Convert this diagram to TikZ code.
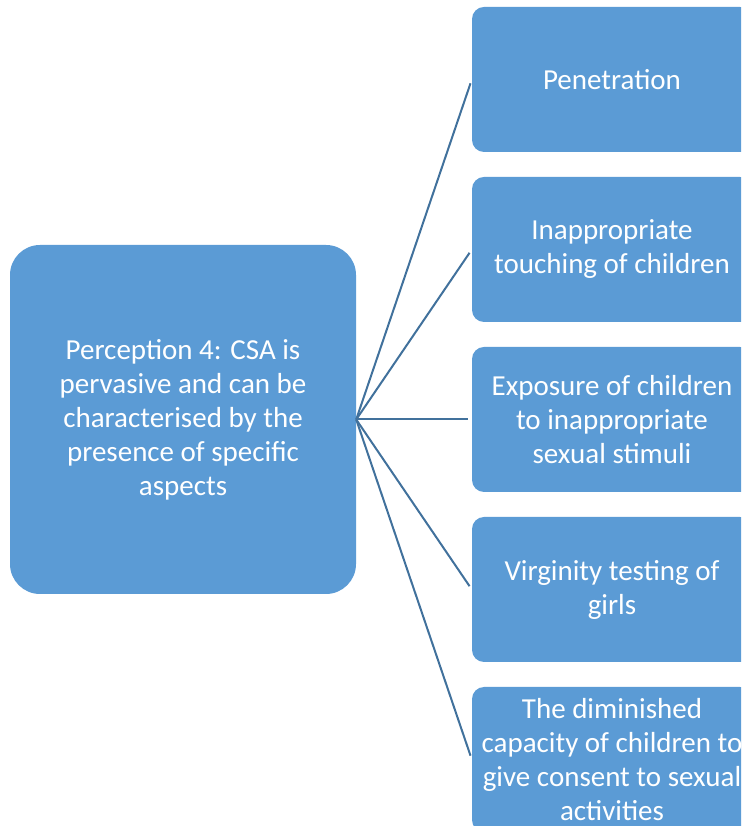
\documentclass[tikz,border=0pt]{standalone}
\usepackage{fontspec}
\setmainfont{Carlito}
\definecolor{boxblue}{HTML}{5B9BD5}
\definecolor{linkblue}{HTML}{41719C}
\begin{document}
\begin{tikzpicture}[x=1pt,y=1pt,
  rootbox/.style={fill=boxblue, draw=none, rounded corners=30pt,
    minimum width=346pt, minimum height=349pt, text=white,
    align=center, font=\fontsize{29}{34}\selectfont, inner sep=0pt},
  leafbox/.style={fill=boxblue, draw=none, rounded corners=12pt,
    minimum width=280pt, minimum height=145pt, text=white,
    align=center, font=\fontsize{29}{34}\selectfont, inner sep=0pt},
  link/.style={draw=linkblue, line width=2pt, shorten >=4pt}]
\useasboundingbox (0,0) rectangle (741,826);
\begin{scope}
\clip (0,0) rectangle (741,826);
\node[rootbox] (root) at (183,406.5) {Perception 4: CSA is\\pervasive and can be\\characterised by the\\presence of specific\\aspects};
\node[leafbox] (a) at (612,746.5) {Penetration};
\node[leafbox] (b) at (612,576.5) {Inappropriate\\touching of children};
\node[leafbox] (c) at (612,406.5) {Exposure of children\\to inappropriate\\sexual stimuli};
\node[leafbox] (d) at (612,236.5) {Virginity testing of\\girls};
\node[leafbox] (e) at (612,66.5) {The diminished\\capacity of children to\\give consent to sexual\\activities};
\foreach \t in {a,b,c,d,e}
  \draw[link] (root.east) -- (\t.west);
\end{scope}
\end{tikzpicture}
\end{document}
